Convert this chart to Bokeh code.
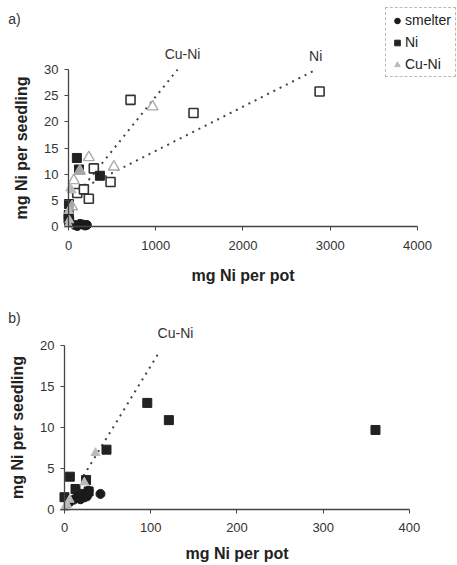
from bokeh.plotting import figure
from bokeh.layouts import column
from bokeh.models import Label, Legend, LegendItem, SingleIntervalTicker, LinearAxis, Range1d
from bokeh.embed import file_html
from bokeh.resources import INLINE

FONT = "Liberation Sans"

# ---------------- panel a data ----------------
a_smelter_x = [70, 100, 130, 160, 190, 210]
a_smelter_y = [0.3, 0.1, 0.5, 0.4, 0.2, 0.3]
a_ni_x = [0, 3, 5, 8, 96, 120, 360]
a_ni_y = [1.5, 2.2, 4.3, 1.0, 13.1, 10.9, 9.7]
a_cuni_x = [0, 5, 10, 20, 36]
a_cuni_y = [0.3, 3.0, 1.2, 7.3, 6.9]
a_open_sq_x = [100, 176, 233, 290, 482, 711, 1433, 2878]
a_open_sq_y = [6.4, 7.1, 5.3, 11.1, 8.5, 24.2, 21.7, 25.8]
a_open_tri_x = [40, 61, 130, 233, 520, 963]
a_open_tri_y = [3.8, 8.8, 10.6, 13.2, 11.4, 22.9]
a_line_cuni_x = [130, 1250]
a_line_cuni_y = [6.8, 30]
a_line_ni_x = [130, 2840]
a_line_ni_y = [7.1, 30]

# ---------------- panel b data ----------------
b_smelter_x = [5, 10.8, 15, 18.5, 22, 26, 28, 41.7]
b_smelter_y = [0.8, 1.2, 1.6, 1.25, 1.8, 1.6, 2.3, 1.9]
b_ni_x = [0, 6.2, 12.8, 18.5, 20, 25, 28, 48.7, 96, 121, 360.6]
b_ni_y = [1.5, 4.0, 2.5, 1.9, 1.5, 3.6, 2.2, 7.3, 13.0, 10.9, 9.7]
b_cuni_x = [0, 3, 6, 23, 36]
b_cuni_y = [0.2, 0.6, 1.2, 3.3, 6.9]
b_line_cuni_x = [22, 111]
b_line_cuni_y = [4.1, 19.4]


def make_fig(w, h, xr, yr, xbounds, ybounds, xstep, ystep, xtitle_standoff):
    p = figure(width=w, height=h, min_border=0, x_range=Range1d(*xr), y_range=Range1d(*yr),
               x_axis_location=None, y_axis_location=None,
               output_backend="svg", toolbar_location=None)
    p.xgrid.visible = False
    p.ygrid.visible = False
    p.outline_line_color = None
    p.background_fill_color = "white"
    p.border_fill_color = "white"
    xa = LinearAxis(fixed_location=0, bounds=xbounds,
                    ticker=SingleIntervalTicker(interval=xstep, num_minor_ticks=0),
                    axis_label="mg Ni per pot")
    ya = LinearAxis(fixed_location=0, bounds=ybounds,
                    ticker=SingleIntervalTicker(interval=ystep, num_minor_ticks=0),
                    axis_label="mg Ni per seedling")
    for ax in (xa, ya):
        ax.axis_line_color = "#444444"
        ax.axis_line_width = 1.3
        ax.major_tick_line_color = "#444444"
        ax.major_tick_out = 4
        ax.major_tick_in = 0
        ax.minor_tick_line_color = None
        ax.major_label_text_font = FONT
        ax.major_label_text_font_size = "13px"
        ax.major_label_text_color = "#333333"
        ax.axis_label_text_font = FONT
        ax.axis_label_text_font_size = "16px"
        ax.axis_label_text_font_style = "bold"
        ax.axis_label_text_color = "#222222"
    xa.major_label_standoff = 10
    xa.axis_label_standoff = xtitle_standoff
    ya.major_label_standoff = 6
    ya.axis_label_standoff = 11
    p.add_layout(xa, "below")
    p.add_layout(ya, "left")
    return p


def lbl(p, x, y, t, size="14px"):
    p.add_layout(Label(x=x, y=y, text=t, text_font=FONT, text_font_size=size,
                       text_color="#333333", text_align="center", text_baseline="middle"))


# ---------------- panel a ----------------
pa = make_fig(457, 290, (-779.4, 4458.5), (-12.23, 43.19), (0, 4000), (0, 30), 1000, 5, 14)

pa.line(a_line_cuni_x, a_line_cuni_y, line_color="#444444", line_dash="2 5", line_width=2)
pa.line(a_line_ni_x, a_line_ni_y, line_color="#444444", line_dash="2 5", line_width=2)
pa.scatter(a_open_sq_x, a_open_sq_y, marker="square", size=9, fill_color="white",
           line_color="#333333", line_width=1.6)
r_s = pa.scatter(a_smelter_x, a_smelter_y, marker="circle", size=9, fill_color="#1a1a1a",
                 line_color="#1a1a1a")
r_n = pa.scatter(a_ni_x, a_ni_y, marker="square", size=9, fill_color="#222222",
                 line_color="#222222")
pa.scatter(a_open_tri_x, a_open_tri_y, marker="triangle", size=11, fill_color="white",
           fill_alpha=0.6, line_color="#aaaaaa", line_width=1.4)
r_c = pa.scatter(a_cuni_x, a_cuni_y, marker="triangle", size=9, fill_color="#bbbbbb",
                 line_color="#bbbbbb")

lbl(pa, 1307, 32.9, "Cu-Ni")
lbl(pa, 2833, 32.5, "Ni")
lbl(pa, -619, 39.7, "a)")

legend = Legend(items=[LegendItem(label="smelter", renderers=[r_s]),
                       LegendItem(label="Ni", renderers=[r_n]),
                       LegendItem(label="Cu-Ni", renderers=[r_c])],
                location=(385, 213))
legend.label_text_font = FONT
legend.label_text_font_size = "14px"
legend.label_text_color = "#222222"
legend.border_line_color = "#777777"
legend.border_line_dash = "2 1"
legend.glyph_width = 14
legend.glyph_height = 15
legend.label_height = 15
legend.label_standoff = 1
legend.spacing = 6
legend.padding = 4
legend.margin = 0
pa.add_layout(legend, "center")

# ---------------- panel b ----------------
pb = make_fig(457, 275, (-74.2, 455.7), (-6.83, 26.71), (0, 400), (0, 20), 100, 5, 9)

pb.line(b_line_cuni_x, b_line_cuni_y, line_color="#444444", line_dash="2 5", line_width=2)
pb.scatter(b_ni_x, b_ni_y, marker="square", size=9, fill_color="#222222", line_color="#222222")
pb.scatter(b_smelter_x, b_smelter_y, marker="circle", size=9, fill_color="#1a1a1a",
           line_color="#1a1a1a")
pb.scatter(b_cuni_x, b_cuni_y, marker="triangle", size=9, fill_color="#bbbbbb",
           line_color="#bbbbbb")

lbl(pb, 128.7, 21.5, "Cu-Ni")
lbl(pb, -58, 23.3, "b)")

layout = column(pa, pb, spacing=0)
open("out.html", "w").write(file_html(layout, INLINE))
